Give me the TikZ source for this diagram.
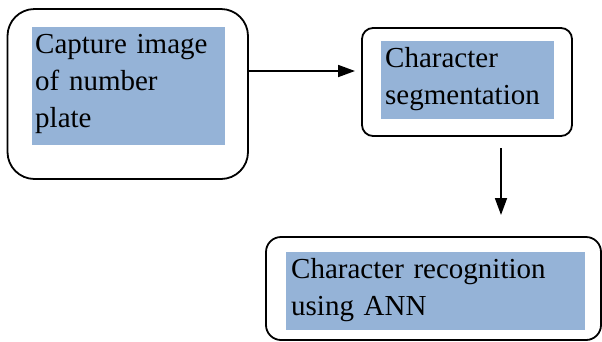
\documentclass[tikz,border=0pt]{standalone}
\usepackage{fontspec}
\setmainfont{Liberation Serif}
\usetikzlibrary{arrows.meta}
\definecolor{shade}{RGB}{149,179,215}
\tikzset{
  outer/.style={draw=black, line width=1.8pt, rectangle, inner sep=0pt},
  label/.style={fill=shade, anchor=north west, inner ysep=0pt, align=left,
    font=\fontsize{29pt}{37pt}\selectfont},
  arr/.style={line width=1.8pt, -{Triangle[length=17pt,width=12pt]}}
}
\newcommand{\padlast}[1]{\rule[-#1]{0pt}{#1}}
\begin{document}
\begin{tikzpicture}[x=1pt,y=-1pt]
\useasboundingbox (0,0) rectangle (602,341);
\clip (0,0) rectangle (602,341);
% outer boxes
\node[outer, rounded corners=27pt, minimum width=240.5pt, minimum height=170pt] (b1) at (127.75,94) {};
\node[outer, rounded corners=11pt, minimum width=210pt, minimum height=108pt] (b2) at (467,82) {};
\node[outer, rounded corners=15pt, minimum width=335pt, minimum height=103pt] (b3) at (433.5,288.5) {};
% shaded texts
\node[label, inner xsep=3pt, text width=187pt] (t1) at (32,27)
  {\strut Capture image\\of number\\plate\padlast{18.1pt}};
\node[label, inner xsep=4pt, text width=165pt] (t2) at (381,41)
  {\strut Character\\segmentation\padlast{15.1pt}};
\node[label, inner xsep=5pt, text width=289pt] (t3) at (286,252)
  {\strut Character recognition\\using ANN\padlast{15.1pt}};
% connectors
\coordinate (a1) at (355,71);
\draw[arr] (b1.east |- a1) -- (a1);
\coordinate (s2) at (501,148);
\coordinate (e2) at (501,215);
\draw[arr] (s2) -- (e2);
\end{tikzpicture}
\end{document}
